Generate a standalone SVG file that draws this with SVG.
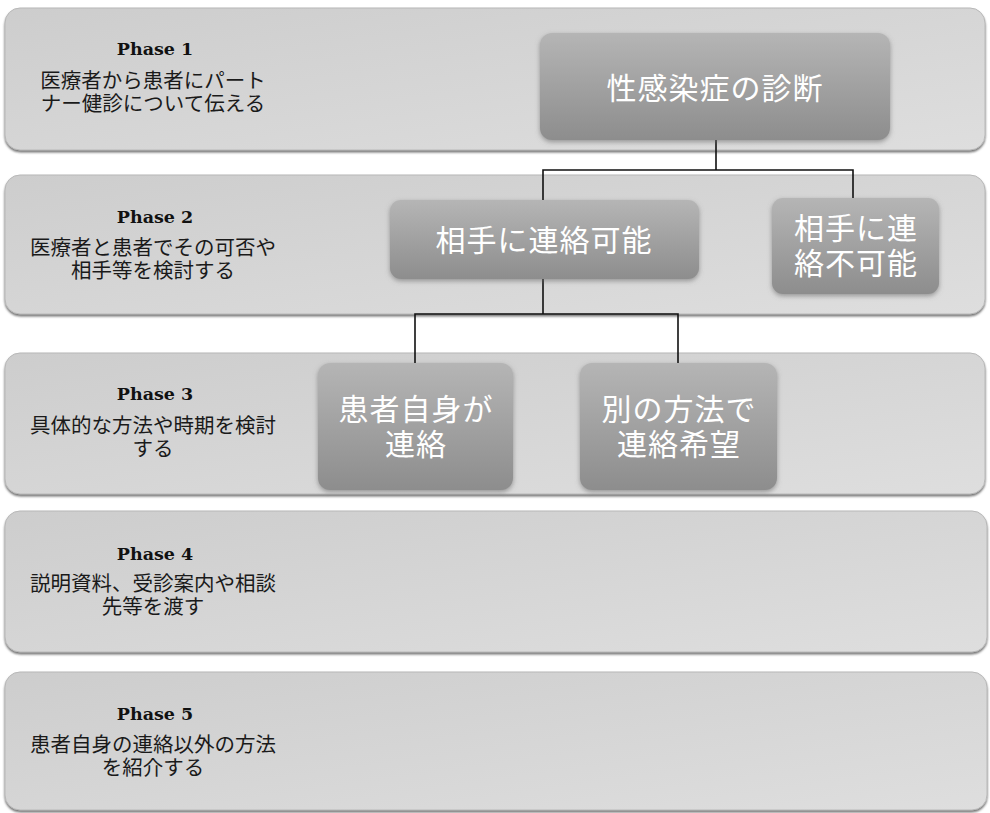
<svg xmlns="http://www.w3.org/2000/svg" width="990" height="813" viewBox="0 0 990 813">
<defs>
<linearGradient id="bandFill" x1="0" y1="0" x2="1" y2="1">
<stop offset="0" stop-color="#cdcdcd"/>
<stop offset="1" stop-color="#dedede"/>
</linearGradient>
<linearGradient id="nodeFill" x1="0" y1="0" x2="0" y2="1">
<stop offset="0" stop-color="#b5b5b5"/>
<stop offset="1" stop-color="#8d8d8d"/>
</linearGradient>
<filter id="bandShadow" x="-5%" y="-10%" width="110%" height="130%">
<feDropShadow dx="0" dy="2" stdDeviation="1.2" flood-color="#555" flood-opacity="0.8"/>
</filter>
<filter id="nodeShadow" x="-10%" y="-10%" width="120%" height="130%">
<feDropShadow dx="0" dy="2" stdDeviation="2.5" flood-color="#666" flood-opacity="0.6"/>
</filter>
</defs>
<style>
.band{fill:url(#bandFill);stroke:#b8b8b8;stroke-width:1;filter:url(#bandShadow)}
.node{fill:url(#nodeFill);filter:url(#nodeShadow)}
.phase{font-family:"DejaVu Serif","Liberation Serif",serif;font-weight:bold;font-size:17.5px;fill:#111;text-anchor:middle}
.desc{font-family:"Liberation Sans","Noto Sans CJK JP","Noto Sans CJK SC",sans-serif;font-size:20.5px;fill:#1a1a1a;text-anchor:middle}
.ntext{font-family:"Liberation Sans","Noto Sans CJK JP","Noto Sans CJK SC",sans-serif;font-size:30px;fill:#ffffff;text-anchor:middle;letter-spacing:1px}
.conn{fill:none;stroke:#111;stroke-width:1.6}
</style>
<g id="phase1">
<rect class="band" x="5" y="8" width="980" height="142" rx="15"/>
<text class="phase" x="155" y="55">Phase 1</text>
<text class="desc" x="153" y="88">医療者から患者にパート<tspan x="153" dy="23">ナー健診について伝える</tspan></text>
</g>
<g id="phase2">
<rect class="band" x="5" y="175" width="980" height="139" rx="15"/>
<text class="phase" x="155" y="223">Phase 2</text>
<text class="desc" x="153" y="255">医療者と患者でその可否や<tspan x="153" dy="23">相手等を検討する</tspan></text>
</g>
<g id="phase3">
<rect class="band" x="5" y="353" width="980" height="141" rx="15"/>
<text class="phase" x="155" y="400">Phase 3</text>
<text class="desc" x="153" y="433">具体的な方法や時期を検討<tspan x="153" dy="23">する</tspan></text>
</g>
<g id="phase4">
<rect class="band" x="5" y="511" width="982" height="141" rx="15"/>
<text class="phase" x="155" y="560">Phase 4</text>
<text class="desc" x="153" y="591">説明資料、受診案内や相談<tspan x="153" dy="23">先等を渡す</tspan></text>
</g>
<g id="phase5">
<rect class="band" x="5" y="672" width="982" height="138" rx="15"/>
<text class="phase" x="155" y="720">Phase 5</text>
<text class="desc" x="153" y="752">患者自身の連絡以外の方法<tspan x="153" dy="23">を紹介する</tspan></text>
</g>
<g id="connectors">
<path class="conn" d="M716,140 V170 M543,200 V170 H853 V198"/>
<path class="conn" d="M543,279 V314 M415,363 V314 H678 V363"/>
</g>
<g id="n-diagnosis">
<rect class="node" x="540" y="33" width="350" height="107" rx="12"/>
<text class="ntext" x="715" y="99">性感染症の診断</text>
</g>
<g id="n-reachable">
<rect class="node" x="390" y="200" width="309" height="79" rx="11"/>
<text class="ntext" x="544" y="251">相手に連絡可能</text>
</g>
<g id="n-unreachable">
<rect class="node" x="772" y="198" width="167" height="96" rx="11"/>
<text class="ntext" x="856" y="239">相手に連<tspan x="856" dy="35">絡不可能</tspan></text>
</g>
<g id="n-self">
<rect class="node" x="318" y="363" width="195" height="127" rx="12"/>
<text class="ntext" x="416" y="420">患者自身が<tspan x="416" dy="35">連絡</tspan></text>
</g>
<g id="n-other">
<rect class="node" x="580" y="363" width="197" height="127" rx="12"/>
<text class="ntext" x="679" y="420">別の方法で<tspan x="679" dy="35">連絡希望</tspan></text>
</g>
</svg>
